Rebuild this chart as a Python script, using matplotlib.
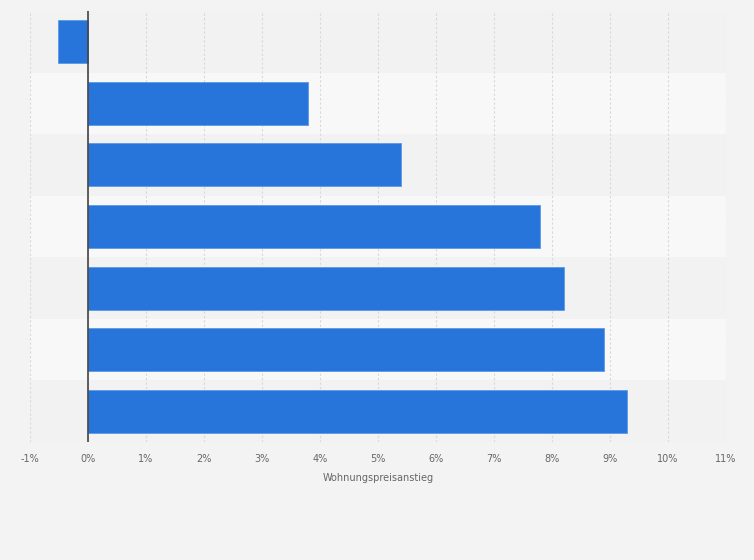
import matplotlib
matplotlib.use("Agg")
import matplotlib.pyplot as plt
import numpy as np

categories = ["", "", "", "", "", "", ""]
values = [-0.52, 3.8, 5.4, 7.8, 8.2, 8.9, 9.3]
xticks = list(range(-1, 12))
xtick_labels = [f"{t}%" for t in xticks]

fig = plt.figure(figsize=(7.54, 5.6), dpi=100)
fig.patch.set_facecolor("#f3f3f3")
ax = fig.add_axes([30/754, (560-442)/560, 696/754, 431/560])
ax.set_facecolor("#f3f3f3")

n = len(values)
y = np.arange(n)
for i in range(n):
    ax.axhspan(i - 0.5, i + 0.5, color="#f2f2f2" if i % 2 == 0 else "#f8f8f8", zorder=0, lw=0)

ax.barh(y, values, height=0.7, color="#2775da", edgecolor="#5b9be6", linewidth=0.6, zorder=3)
ax.axvline(0, color="#444444", lw=1.2, zorder=4)

ax.set_xlim(-1, 11)
ax.set_ylim(n - 0.5, -0.5)
ax.set_xticks(xticks)
ax.set_xticklabels(xtick_labels, fontsize=7, color="#666666")
ax.set_yticks(y)
ax.set_yticklabels(categories)
ax.tick_params(axis="both", length=0)
ax.tick_params(axis="x", pad=9)
ax.grid(axis="x", color="#d8d8d8", linestyle=(0, (2, 2)), lw=0.8, zorder=1)
ax.set_axisbelow(True)
for s in ax.spines.values():
    s.set_visible(False)
ax.set_xlabel("Wohnungspreisanstieg", fontsize=7, color="#666666", labelpad=6)

fig.savefig("out.png", dpi=100, facecolor=fig.get_facecolor())
